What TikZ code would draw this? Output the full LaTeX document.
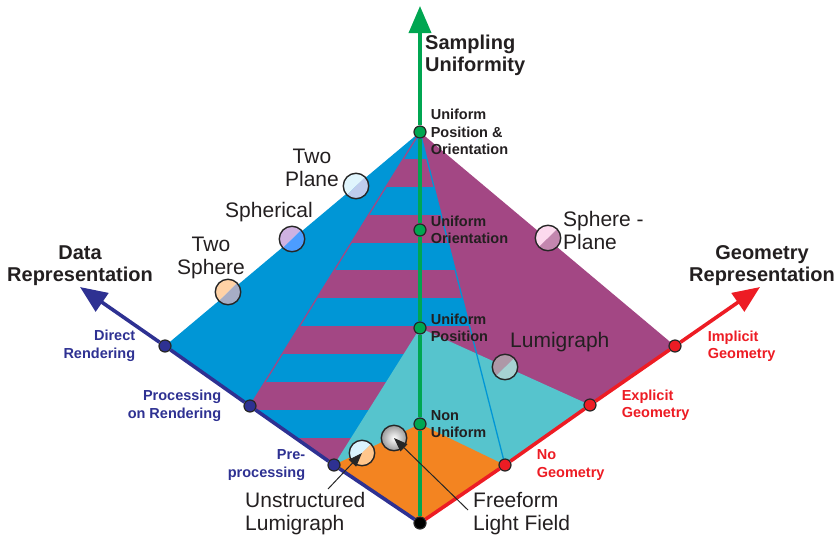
\documentclass[tikz,border=0pt]{standalone}
\usepackage{fontspec}
\setmainfont{Liberation Sans}
\usetikzlibrary{positioning,arrows.meta,backgrounds}

\definecolor{facepurple}{RGB}{163,71,132}
\definecolor{faceblue}{RGB}{0,150,214}
\definecolor{facecyan}{RGB}{86,196,205}
\definecolor{faceorange}{RGB}{243,132,33}
\definecolor{axgreen}{RGB}{0,166,81}
\definecolor{axnavy}{RGB}{46,49,146}
\definecolor{axred}{RGB}{237,28,36}
\definecolor{txt}{RGB}{35,31,32}

\begin{document}
\begin{tikzpicture}[x=1pt,y=-1pt,
  axdot/.style={circle,draw=black!85,line width=1.2pt,minimum size=12pt,inner sep=0pt},
  gdot/.style={axdot,fill=axgreen},
  ndot/.style={axdot,fill=axnavy},
  rdot/.style={axdot,fill=axred},
  odot/.style={axdot,fill=black},
  gax/.style={draw=axgreen,line width=3.6pt},
  nax/.style={draw=axnavy,line width=3.6pt},
  rax/.style={draw=axred,line width=3.6pt},
  bigtip/.style={-{Triangle[length=27pt,width=22pt]}},
  ptr/.style={draw=black!85,line width=1pt,-{Triangle[length=14pt,width=10pt]}},
  ball/.style 2 args={circle,draw=black!85,line width=1.4pt,minimum size=25.5pt,inner sep=0pt,
    path picture={
      \fill[#1] (path picture bounding box.south west) -- (path picture bounding box.north west)
        -- (path picture bounding box.north east) -- cycle;
      \fill[#2] (path picture bounding box.south west) -- (path picture bounding box.south east)
        -- (path picture bounding box.north east) -- cycle;}},
  greyball/.style={circle,draw=black!85,line width=1.4pt,minimum size=25.5pt,inner sep=0pt,
    shade,shading=radial,inner color=white,outer color=black!40},
  axtitle/.style={font=\bfseries\fontsize{20}{22}\selectfont,text=txt,inner sep=0pt},
  vlab/.style={font=\bfseries\fontsize{14.5}{17.5}\selectfont,inner sep=0pt},
  sphlab/.style={font=\fontsize{21}{23}\selectfont,text=txt,inner sep=0pt}]
\useasboundingbox (0,0) rectangle (835,539);

% points on the three axes
\node[odot] (O) at (420,523) {};
\node[gdot] (upo) at (420,132) {};
\node[gdot] (uo) at (420,230) {};
\node[gdot] (up) at (420,328) {};
\node[gdot] (nu) at (420,424) {};
\node[ndot] (dr) at (165,346) {};
\node[ndot] (pr) at (250,406) {};
\node[ndot] (pre) at (334,465) {};
\node[rdot] (ig) at (675,346) {};
\node[rdot] (eg) at (590,405) {};
\node[rdot] (ng) at (505,465) {};
\coordinate (gtip) at (420,6);
\coordinate (ntip) at (80,287);
\coordinate (rtip) at (760,287);

% faces
\begin{scope}[on background layer]
  \fill[faceblue] (upo.center)--(dr.center)--(pr.center)--(pre.center)--(ng.center)--cycle;
  \begin{scope}
    \clip (upo.center)--(pr.center)--(pre.center)--(ng.center)--cycle;
    \foreach \k in {0,...,5}
      \fill[facepurple] (200,159+55.7*\k) rectangle (520,186.8+55.7*\k);
  \end{scope}
  \fill[facepurple] (upo.center)--(ig.center)--(eg.center)--(ng.center)--cycle;
  \fill[facecyan] (up.center)--(eg.center)--(ng.center)--(pre.center)--cycle;
  \fill[faceorange] (pre.center)--(nu.center)--(ng.center)--(O.center)--cycle;
  \draw[faceblue,line width=1.3pt] (upo.center)--(ng.center);
  \draw[facepurple,line width=1.3pt] (upo.center)--(pr.center);
\end{scope}

% axes
\path[gax] (O) edge (nu) (nu) edge (up) (up) edge (uo) (uo) edge (upo);
\draw[gax,bigtip] (upo) -- (gtip);
\path[nax] (O) edge (pre) (pre) edge (pr) (pr) edge (dr);
\draw[nax,bigtip] (dr) -- (ntip);
\path[rax] (O) edge (ng) (ng) edge (eg) (eg) edge (ig);
\draw[rax,bigtip] (ig) -- (rtip);

% axis titles
\node[axtitle,anchor=west,align=left] (sutitle) at (425,55) {Sampling\\Uniformity};
\node[axtitle,align=center] (drtitle) at (80,266) {Data\\Representation};
\node[axtitle,align=center] (grtitle) at (762,266) {Geometry\\Representation};

% values
\node[vlab,text=txt,align=left,right=4pt of upo] {Uniform\\Position \&\\Orientation};
\node[vlab,text=txt,align=left,right=4pt of uo] {Uniform\\Orientation};
\node[vlab,text=txt,align=left,right=4pt of up] {Uniform\\Position};
\node[vlab,text=txt,align=left,right=4pt of nu] {Non\\Uniform};
\node[vlab,text=axnavy,align=right,left=23pt of dr] {Direct\\Rendering};
\node[vlab,text=axnavy,align=right,left=22pt of pr] {Processing\\on Rendering};
\node[vlab,text=axnavy,align=right,left=22pt of pre] {Pre-\\processing};
\node[vlab,text=axred,align=left,right=26pt of ig] {Implicit\\Geometry};
\node[vlab,text=axred,align=left,right=25pt of eg] {Explicit\\Geometry};
\node[vlab,text=axred,align=left,right=25pt of ng] {No\\Geometry};

% light field representations
\node[ball={cyan!12!white}{cyan!45!blue!25!white}] (tp) at (356,186) {};
\node[ball={blue!25!violet!30!white}{blue!55!cyan!70!white}] (sp) at (292,239) {};
\node[ball={orange!35!white}{cyan!40!blue!35!gray!60!white}] (ts) at (228,292) {};
\node[ball={magenta!15!white}{facepurple!65!white}] (sph) at (548,238) {};
\node[ball={facepurple!35!gray!70!white}{teal!35!white}] (lg) at (505,367) {};
\node[ball={cyan!15!white}{orange!45!white}] (ul) at (362,453) {};
\node[greyball] (ff) at (394,438) {};

\node[sphlab,align=center] (tpl) at (312,168) {Two\\Plane};
\node[sphlab] (spl) at (269,212) {Spherical};
\node[sphlab,align=center] (tsl) at (211,258) {Two\\Sphere};
\node[sphlab,align=left,anchor=west] (sphl) at (563,230) {Sphere -\\Plane};
\node[sphlab,anchor=west] (lgl) at (510,342) {Lumigraph};
\node[sphlab,align=left,anchor=west] (ull) at (245,514) {Unstructured\\Lumigraph};
\node[sphlab,align=left,anchor=west] (ffl) at (473,514) {Freeform\\Light Field};

\coordinate (ulstart) at (328,489);
\coordinate (ffstart) at (468,510);
\draw[ptr] (ulstart) -- (ul.center);
\draw[ptr] (ffstart) -- (ff.center);
\end{tikzpicture}
\end{document}
